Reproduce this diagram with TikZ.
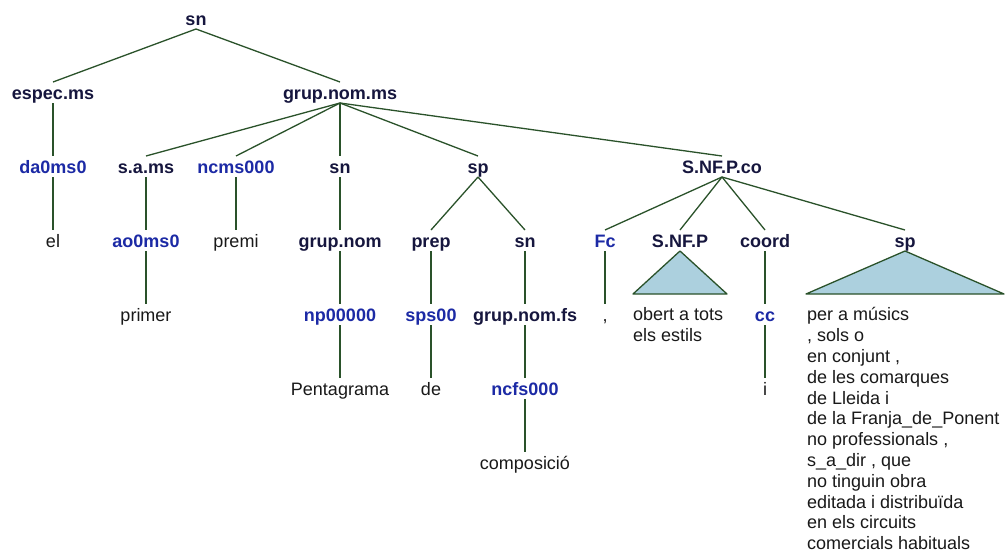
\documentclass[tikz,border=0pt]{standalone}
\usepackage{fontspec}
\setmainfont{Liberation Sans}
\usepackage{tikz}
\usetikzlibrary{positioning, calc}
\definecolor{catnavy}{RGB}{22,22,62}
\definecolor{tagblue}{RGB}{28,42,165}
\definecolor{wordgray}{RGB}{25,25,25}
\definecolor{branchgreen}{RGB}{42,82,42}
\definecolor{trifill}{RGB}{172,208,222}
\tikzset{
  cat/.style={font=\fontsize{18}{20}\selectfont\bfseries, text=catnavy,
    text height=13pt, text depth=0pt, inner sep=0pt, outer sep=4pt},
  tag/.style={cat, text=tagblue},
  word/.style={font=\fontsize{18}{20}\selectfont, text=wordgray,
    text height=13pt, text depth=0pt, inner sep=0pt, outer sep=4pt},
  chunk/.style={font=\fontsize{18}{20.8}\selectfont, text=wordgray,
    align=left, inner sep=0pt, anchor=north west},
  edge/.style={line width=1.3pt, color=branchgreen},
  tri/.style={line width=1.3pt, draw=branchgreen, fill=trifill, line join=round}
}

\begin{document}
\begin{tikzpicture}[x=1pt, y=-1pt]
  \useasboundingbox[fill=white] (0,0) rectangle (1005,552);

  % Root and first level
  \node[cat] (root) at (196,18.5) {sn};
  \node[cat] (espec) at (53,92.5) {espec.ms};
  \node[cat] (grupms) at (340,92.5) {grup.nom.ms};

  % Second level
  \node[tag] (da) at (53,166.5) {da0ms0};
  \node[cat] (sam) at (146,166.5) {s.a.ms};
  \node[tag] (ncms) at (236,166.5) {ncms000};
  \node[cat] (sn1) at (340,166.5) {sn};
  \node[cat] (sp1) at (478,166.5) {sp};
  \node[cat] (snfpco) at (722,166.5) {S.NF.P.co};

  % Third level
  \node[word] (el) at (53,240.5) {el};
  \node[tag] (ao) at (146,240.5) {ao0ms0};
  \node[word] (premi) at (236,240.5) {premi};
  \node[cat] (grupnom) at (340,240.5) {grup.nom};
  \node[cat] (prep) at (431,240.5) {prep};
  \node[cat] (sn2) at (525,240.5) {sn};
  \node[tag] (fc) at (605,240.5) {Fc};
  \node[cat] (snfp) at (680,240.5) {S.NF.P};
  \node[cat] (coord) at (765,240.5) {coord};
  \node[cat] (sp2) at (905,240.5) {sp};

  % Fourth level and below
  \node[word] (primer) at (146,314.5) {primer};
  \node[tag] (np) at (340,314.5) {np00000};
  \node[tag] (sps) at (431,314.5) {sps00};
  \node[cat] (grupfs) at (525,314.5) {grup.nom.fs};
  \node[word] (comma) at (605,314.5) {,};
  \node[tag] (cc) at (765,314.5) {cc};
  \node[word] (penta) at (340,388.5) {Pentagrama};
  \node[word] (de) at (431,388.5) {de};
  \node[tag] (ncfs) at (525,388.5) {ncfs000};
  \node[word] (conj) at (765,388.5) {i};
  \node[word] (compo) at (525,462.5) {composició};

  % Collapsed subtrees
  \draw[tri] (snfp.south) -- ++(-47,43) -- ++(94,0) -- cycle;
  \draw[tri] (sp2.south) -- ++(-99,43) -- ++(198,0) -- cycle;
  \node[chunk] (obert) at (633,307) {\rule{0pt}{13pt}obert a tots\\els estils};
  \node[chunk] (permus) at (807,307.5) {\rule{0pt}{13pt}per a músics\\, sols o\\en conjunt ,\\de les comarques\\de Lleida i\\de la Franja\_de\_Ponent\\no professionals ,\\s\_a\_dir , que\\no tinguin obra\\editada i distribuïda\\en els circuits\\comercials habituals};

  % Branches
  \draw[edge] (root.south) -- (espec.north);
  \draw[edge] (root.south) -- (grupms.north);
  \draw[edge] (espec.south) -- (da.north);
  \draw[edge] (da.south) -- (el.north);
  \draw[edge] (grupms.south) -- (sam.north);
  \draw[edge] (grupms.south) -- (ncms.north);
  \draw[edge] (grupms.south) -- (sn1.north);
  \draw[edge] (grupms.south) -- (sp1.north);
  \draw[edge] (grupms.south) -- (snfpco.north);
  \draw[edge] (sam.south) -- (ao.north);
  \draw[edge] (ao.south) -- (primer.north);
  \draw[edge] (ncms.south) -- (premi.north);
  \draw[edge] (sn1.south) -- (grupnom.north);
  \draw[edge] (grupnom.south) -- (np.north);
  \draw[edge] (np.south) -- (penta.north);
  \draw[edge] (sp1.south) -- (prep.north);
  \draw[edge] (sp1.south) -- (sn2.north);
  \draw[edge] (prep.south) -- (sps.north);
  \draw[edge] (sps.south) -- (de.north);
  \draw[edge] (sn2.south) -- (grupfs.north);
  \draw[edge] (grupfs.south) -- (ncfs.north);
  \draw[edge] (ncfs.south) -- (compo.north);
  \draw[edge] (snfpco.south) -- (fc.north);
  \draw[edge] (snfpco.south) -- (snfp.north);
  \draw[edge] (snfpco.south) -- (coord.north);
  \draw[edge] (snfpco.south) -- (sp2.north);
  \draw[edge] (fc.south) -- (comma.north);
  \draw[edge] (coord.south) -- (cc.north);
  \draw[edge] (cc.south) -- (conj.north);
\end{tikzpicture}
\end{document}
